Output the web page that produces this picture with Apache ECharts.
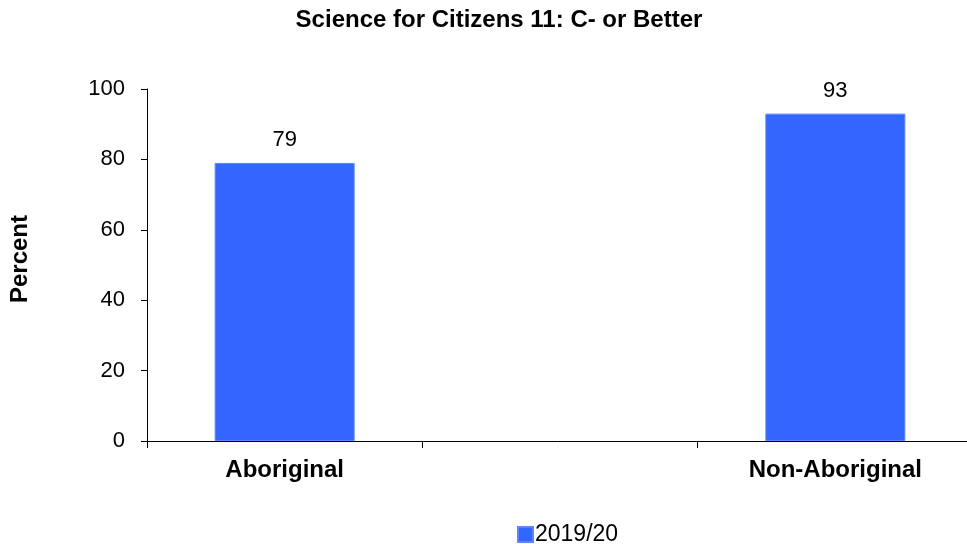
<!DOCTYPE html>
<html>
<head>
<meta charset="utf-8">
<script src="https://cdn.jsdelivr.net/npm/echarts@6/dist/echarts.min.js"></script>
<style>
html,body{margin:0;padding:0;background:#fff;}
#chart{width:967px;height:544px;}
</style>
</head>
<body>
<div id="chart"></div>
<script>
const titleText = 'Science for Citizens 11: C- or Better';
const categories = ['Aboriginal', '', 'Non-Aboriginal'];
const seriesName = '2019/20';
const values = [79, null, 93];
const yTicks = [0, 20, 40, 60, 80, 100];

const chart = echarts.init(document.getElementById('chart'));
const font = 'Arial, "Liberation Sans", sans-serif';
chart.setOption({
  animation: false,
  backgroundColor: '#fff',
  title: {
    text: titleText,
    left: 494,
    textAlign: 'center',
    top: 3,
    textStyle: {fontFamily: font, fontSize: 24, fontWeight: 'bold', color: '#000'}
  },
  legend: {
    data: [seriesName],
    left: 512,
    top: 518,
    icon: 'rect',
    itemWidth: 15,
    itemHeight: 15,
    itemGap: 10,
    textStyle: {fontFamily: font, fontSize: 23, color: '#000', padding: [0,0,0,-3]}
  },
  grid: {left: 147, top: 89, width: 826, height: 352, containLabel: false, outerBoundsMode: 'none'},
  xAxis: {
    type: 'category',
    data: categories,
    axisLine: {lineStyle: {color: '#000', width: 1}},
    axisTick: {show: true, length: 7, lineStyle: {color: '#000'}},
    axisLabel: {fontFamily: font, fontSize: 24, fontWeight: 'bold', color: '#000', margin: 17}
  },
  yAxis: {
    type: 'value',
    min: yTicks[0],
    max: yTicks[yTicks.length - 1],
    interval: 20,
    name: 'Percent',
    nameLocation: 'middle',
    nameRotate: 90,
    nameGap: 115,
    nameTextStyle: {fontFamily: font, fontSize: 24, fontWeight: 'bold', color: '#000', padding: [0,0,0,12]},
    splitLine: {show: false},
    axisLine: {show: true, lineStyle: {color: '#000', width: 1}},
    axisTick: {show: true, length: 6, lineStyle: {color: '#000'}},
    axisLabel: {fontFamily: font, fontSize: 22, color: '#000', margin: 22}
  },
  series: [{
    name: seriesName,
    type: 'bar',
    data: values,
    barWidth: 140,
    itemStyle: {color: '#3366FF', borderColor: '#5b86ff', borderWidth: 1},
    label: {show: true, position: 'top', distance: 12, fontFamily: font, fontSize: 22, color: '#000'}
  }]
});
</script>
</body>
</html>
